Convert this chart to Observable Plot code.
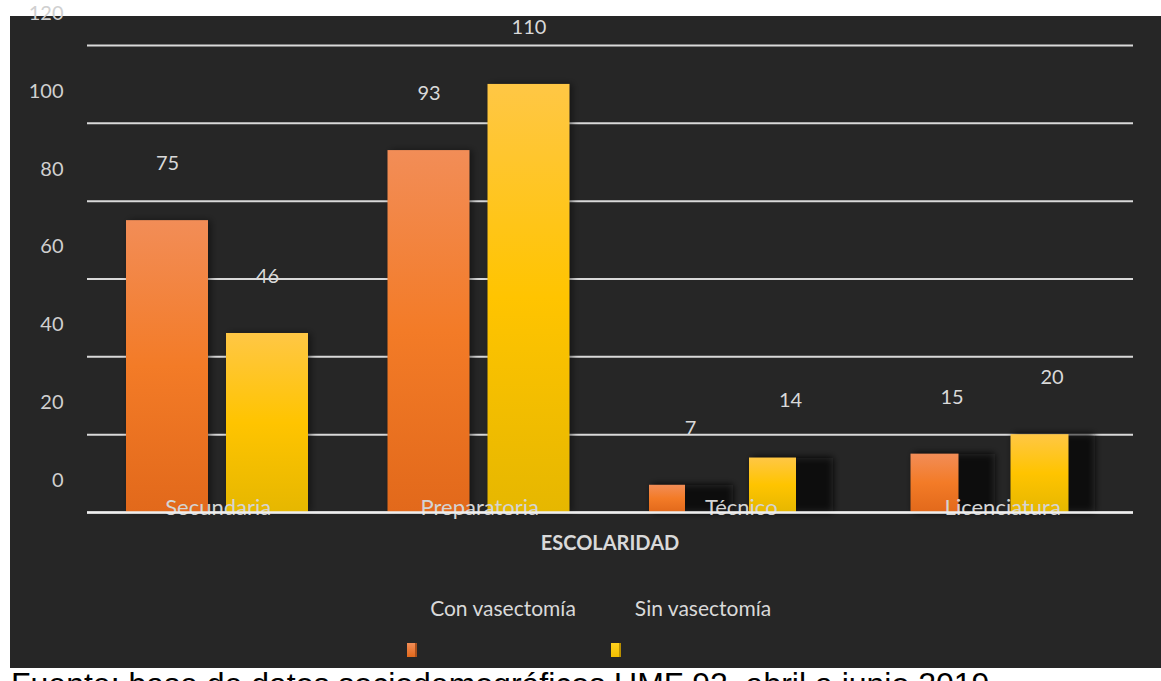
<!DOCTYPE html>
<html>
<head>
<meta charset="utf-8">
<script src="https://cdn.jsdelivr.net/npm/d3@7"></script>
<script src="https://cdn.jsdelivr.net/npm/@observablehq/plot@0.6"></script>
<style>
  html, body { margin:0; padding:0; background:#ffffff; width:1161px; height:681px; overflow:hidden; position:relative; font-family: Lato, "Open Sans", sans-serif; }
  #panel { position:absolute; left:10px; top:16px; width:1151px; height:652px; background:#262626; }
  #chart { position:absolute; left:10px; top:16px; width:1151px; height:652px; }
  #chart svg { overflow:visible; }
  g[fill="#0e0e0e"] { filter: url(#blur); }
  .axtitle { position:absolute; left:410px; width:400px; top:532px; line-height:20px; text-align:center; color:#d9d9d9; font-size:20px; font-weight:700; }
  .legtext { position:absolute; width:200px; top:598px; line-height:20px; text-align:center; color:#d9d9d9; font-size:21px; }
  .sw { position:absolute; top:643px; width:8px; height:14px; }
  #caption { position:absolute; left:11px; top:668px; font-family:"Liberation Sans", Arial, sans-serif; font-size:32px; line-height:32px; color:#000; white-space:nowrap; }
</style>
</head>
<body>
<svg width="0" height="0" style="position:absolute">
  <defs>
    <linearGradient id="gOrange" x1="0" y1="0" x2="0" y2="1">
      <stop offset="0" stop-color="#F28D57"/>
      <stop offset="0.5" stop-color="#F37B27"/>
      <stop offset="1" stop-color="#E2691B"/>
    </linearGradient>
    <linearGradient id="gYellow" x1="0" y1="0" x2="0" y2="1">
      <stop offset="0" stop-color="#FFC745"/>
      <stop offset="0.5" stop-color="#FFC400"/>
      <stop offset="1" stop-color="#E6B700"/>
    </linearGradient>
    <filter id="blur" x="-50%" y="-50%" width="200%" height="200%">
      <feGaussianBlur stdDeviation="3.5"/>
    </filter>
  </defs>
</svg>
<div id="panel"></div>
<div id="chart"></div>
<div class="axtitle" id="xtitle"></div>
<div class="legtext" id="leg0" style="left:403px"></div>
<div class="legtext" id="leg1" style="left:603px"></div>
<div class="sw" style="left:407px; background:linear-gradient(#F28D57,#E2691B); border-right:2px solid #A9501C;"></div>
<div class="sw" style="left:611px; background:linear-gradient(#FFD21F,#F2BE00); border-right:2px solid #B88F00;"></div>
<div id="caption"></div>
<script>
// ---- data ----
const categories = ["Secundaria", "Preparatoria", "Técnico", "Licenciatura"];
const series = ["Con vasectomía", "Sin vasectomía"];
const conVasectomia = [75, 93, 7, 15];
const sinVasectomia = [46, 110, 14, 20];
const yTicks = [0, 20, 40, 60, 80, 100, 120];
const xTitle = "ESCOLARIDAD";
const captionText = "Fuente: base de datos sociodemográficos UMF 92, abril a junio 2019";

const rows = categories.flatMap((c, i) => [
  {category: c, series: series[0], value: conVasectomia[i]},
  {category: c, series: series[1], value: sinVasectomia[i]}
]);

const wide = ["Secundaria", "Preparatoria"];
const isCon = d => d.series === series[0];
const isSin = d => d.series === series[1];

const txt = "#d9d9d9";

const chart = Plot.plot({
  width: 1151,
  height: 652,
  marginTop: 29,
  marginBottom: 156,
  marginLeft: 77,
  marginRight: 28,
  style: {background: "transparent", overflow: "visible", fontFamily: "Lato, 'Open Sans', sans-serif"},
  x: {domain: categories, axis: null, padding: 0, round: false},
  y: {domain: [0, 120], axis: null},
  marks: [
    // gridlines
    Plot.ruleY(yTicks, {stroke: "#d9d9d9", strokeWidth: 2}),
    // y tick labels (shifted up like the original)
    Plot.text(yTicks, {y: d => d, text: d => String(d), frameAnchor: "left", textAnchor: "end", dx: -24, dy: -32, fill: "#d0d0d0", fontSize: 20}),
    // shadows
    Plot.barY(rows, {filter: d => isCon(d) && wide.includes(d.category), x: "category", y: "value", fill: "#0e0e0e", fillOpacity: 0.45, insetLeft: 42, insetRight: 137.5}),
    Plot.barY(rows, {filter: d => isSin(d) && wide.includes(d.category), x: "category", y: "value", fill: "#0e0e0e", fillOpacity: 0.45, insetLeft: 142, insetRight: 37.5}),
    Plot.barY(rows, {filter: d => isCon(d) && !wide.includes(d.category), x: "category", y: "value", fill: "#0e0e0e", insetLeft: 42, insetRight: 138.5}),
    Plot.barY(rows, {filter: d => isSin(d) && !wide.includes(d.category), x: "category", y: "value", fill: "#0e0e0e", insetLeft: 142, insetRight: 38.5}),
    // bars: Con vasectomía
    Plot.barY(rows, {filter: d => isCon(d) && wide.includes(d.category), x: "category", y: "value", fill: "url(#gOrange)", insetLeft: 39, insetRight: 140.5}),
    Plot.barY(rows, {filter: d => isCon(d) && d.category === "Técnico", x: "category", y: "value", fill: "url(#gOrange)", insetLeft: 39, insetRight: 186.5}),
    Plot.barY(rows, {filter: d => isCon(d) && d.category === "Licenciatura", x: "category", y: "value", fill: "url(#gOrange)", insetLeft: 39, insetRight: 174.5}),
    // bars: Sin vasectomía
    Plot.barY(rows, {filter: d => isSin(d) && wide.includes(d.category), x: "category", y: "value", fill: "url(#gYellow)", insetLeft: 139, insetRight: 40.5}),
    Plot.barY(rows, {filter: d => isSin(d) && d.category === "Técnico", x: "category", y: "value", fill: "url(#gYellow)", insetLeft: 139, insetRight: 75.5}),
    Plot.barY(rows, {filter: d => isSin(d) && d.category === "Licenciatura", x: "category", y: "value", fill: "url(#gYellow)", insetLeft: 139, insetRight: 64.5}),
    // value labels
    Plot.text(rows, {filter: isCon, x: "category", y: "value", text: d => String(d.value), dx: -50.75, dy: -57, fill: txt, fontSize: 20}),
    Plot.text(rows, {filter: isSin, x: "category", y: "value", text: d => String(d.value), dx: 49.25, dy: -57, fill: txt, fontSize: 20}),
    // category labels inside the bars
    Plot.text(categories, {x: d => d, text: d => d, frameAnchor: "bottom", lineAnchor: "bottom", dy: 2, fill: "#d4d4d4", fontSize: 22}),
    // baseline
    Plot.ruleY([0], {stroke: "#eeeeee", strokeWidth: 2.5})
  ]
});
document.getElementById("chart").appendChild(chart);
document.getElementById("xtitle").textContent = xTitle;
document.getElementById("leg0").textContent = series[0];
document.getElementById("leg1").textContent = series[1];
document.getElementById("caption").textContent = captionText;
</script>
</body>
</html>
